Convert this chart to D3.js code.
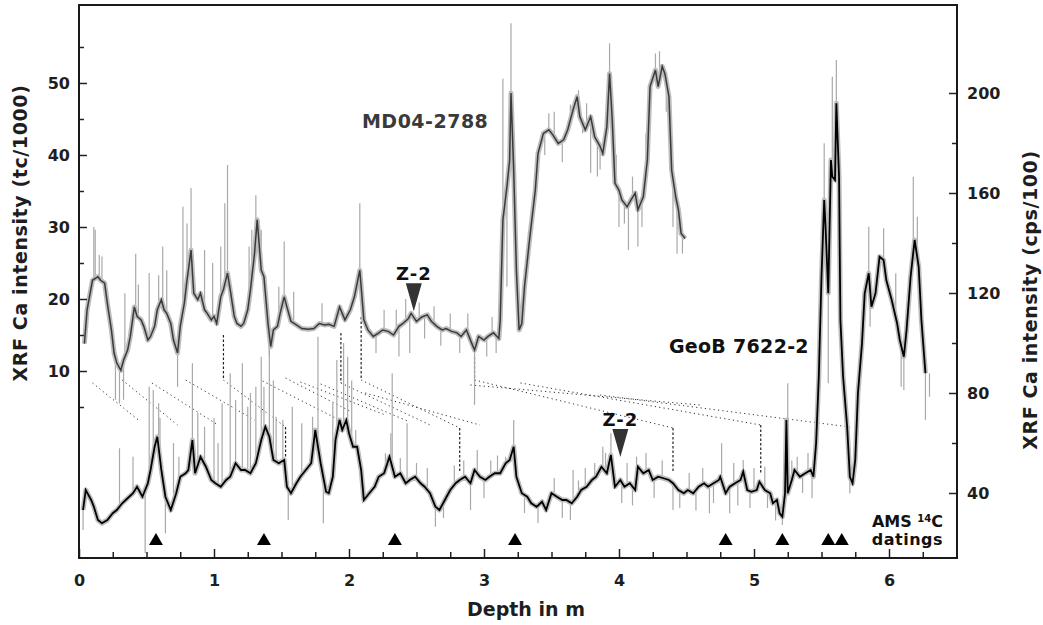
<!DOCTYPE html>
<html>
<head>
<meta charset="utf-8">
<script src="https://cdn.jsdelivr.net/npm/d3@7"></script>
<style>
  body { margin: 0; background: #fff; }
  svg text { font-family: "DejaVu Sans", Verdana, sans-serif; font-weight: bold; }
</style>
</head>
<body>
<svg id="chart" width="1043" height="625"></svg>
<script>
// MD04-2788, smoothed Ca (tc/1000) vs depth (m)
const md04 = [
  [0.04,13.8],[0.06,18.5],[0.10,22.6],[0.14,23.1],[0.16,22.6],[0.19,22.2],[0.21,19.4],[0.24,15.7],[0.26,12.5],[0.28,11.1],
  [0.31,10.1],[0.33,11.5],[0.36,12.9],[0.38,14.8],[0.41,18.9],[0.43,17.6],[0.46,17.1],[0.48,16.2],[0.51,14.3],[0.53,14.8],
  [0.56,16.2],[0.58,18.5],[0.61,19.9],[0.63,18.5],[0.65,18.0],[0.68,16.6],[0.70,14.3],[0.73,12.5],[0.75,16.2],[0.78,19.4],
  [0.80,22.6],[0.83,26.8],[0.85,20.8],[0.88,19.9],[0.90,20.8],[0.93,18.5],[0.95,18.0],[0.98,17.1],[1.00,17.6],[1.02,16.6],
  [1.05,20.3],[1.07,21.3],[1.10,23.6],[1.12,21.3],[1.15,17.6],[1.17,16.6],[1.20,16.2],[1.22,16.6],[1.25,18.5],[1.27,21.3],
  [1.30,26.3],[1.32,31.0],[1.35,24.0],[1.37,23.1],[1.40,16.6],[1.42,13.4],[1.44,15.7],[1.47,16.2],[1.49,18.0],[1.52,20.3],
  [1.54,18.9],[1.57,16.9],[1.61,16.4],[1.65,15.9],[1.70,15.8],[1.74,15.9],[1.78,16.6],[1.82,16.4],[1.85,16.5],[1.89,16.2],
  [1.93,18.9],[1.97,17.1],[2.01,18.5],[2.04,20.3],[2.08,24.0],[2.11,17.1],[2.14,15.7],[2.18,14.8],[2.22,15.3],[2.25,15.7],
  [2.29,15.5],[2.33,15.0],[2.37,16.2],[2.40,16.6],[2.44,17.3],[2.46,18.0],[2.50,16.9],[2.54,17.5],[2.58,17.8],[2.61,16.9],
  [2.65,16.2],[2.69,15.7],[2.72,15.9],[2.76,15.5],[2.80,15.3],[2.83,14.8],[2.87,15.7],[2.91,13.8],[2.93,12.9],[2.96,14.8],
  [3.00,14.3],[3.03,14.8],[3.07,15.3],[3.11,14.5],[3.12,17.1],[3.14,31.0],[3.17,35.6],[3.19,39.3],[3.20,48.6],[3.22,37.9],
  [3.24,24.0],[3.26,15.7],[3.28,16.6],[3.30,21.7],[3.34,28.7],[3.38,35.1],[3.40,40.2],[3.44,43.0],[3.48,43.5],[3.51,42.8],
  [3.55,41.6],[3.59,42.1],[3.62,43.5],[3.66,46.3],[3.69,48.1],[3.71,45.3],[3.75,43.5],[3.79,45.3],[3.82,42.5],[3.86,41.2],
  [3.88,40.2],[3.91,43.9],[3.93,51.3],[3.95,44.9],[3.97,36.1],[4.00,35.1],[4.02,33.8],[4.06,32.8],[4.09,33.8],[4.12,34.7],
  [4.14,32.4],[4.18,34.2],[4.21,39.3],[4.23,49.5],[4.27,51.8],[4.29,49.5],[4.32,52.3],[4.34,51.3],[4.37,48.1],[4.39,37.9],
  [4.42,34.2],[4.44,32.4],[4.46,29.1],[4.49,28.4]
];

// MD04-2788 raw spikes (depth, Ca)
const md04Spikes = [
  [0.11,30.0],[0.12,29.6],[0.15,26.1],[0.17,25.9],[0.27,6.0],[0.30,5.5],[0.33,6.0],[0.34,20.8],[0.42,26.3],[0.44,22.0],
  [0.52,23.6],[0.59,23.3],[0.62,27.3],[0.65,24.0],[0.73,7.8],[0.77,32.8],[0.80,30.5],[0.83,35.4],[0.93,26.8],[0.99,25.0],
  [1.05,27.3],[1.08,33.3],[1.10,38.6],[1.26,27.3],[1.28,29.6],[1.31,34.4],[1.35,29.6],[1.41,12.0],[1.48,21.7],[1.52,28.0],
  [1.59,21.0],[1.80,19.4],[1.92,18.9],[2.08,33.3],[2.20,12.5],[2.26,18.5],[2.35,18.5],[2.37,12.0],[2.42,20.0],[2.45,12.5],
  [2.52,19.5],[2.56,14.5],[2.63,19.0],[2.68,13.5],[2.75,18.0],[2.82,12.5],[2.88,18.0],[2.93,5.3],[3.02,12.0],[3.06,17.5],
  [3.09,12.5],[3.14,50.6],[3.17,21.7],[3.20,58.3],[3.45,40.0],[3.48,45.8],[3.52,46.0],[3.58,39.0],[3.64,47.0],[3.70,49.0],
  [3.73,43.0],[3.76,47.2],[3.79,37.5],[3.84,37.0],[3.86,38.0],[3.93,55.5],[3.98,40.0],[4.00,30.0],[4.04,30.5],[4.07,26.8],
  [4.10,37.0],[4.14,27.3],[4.17,30.0],[4.20,43.0],[4.27,54.1],[4.30,54.4],[4.35,46.0],[4.40,30.0],[4.43,26.3],[4.47,26.3]
];

// GeoB 7622-2, smoothed Ca (cps/100) vs depth (m)
const geob = [
  [0.03,33.2],[0.05,41.2],[0.09,37.2],[0.11,34.5],[0.14,29.2],[0.17,27.9],[0.21,29.2],[0.25,31.9],[0.28,33.2],[0.32,35.9],
  [0.36,37.9],[0.40,39.9],[0.43,42.5],[0.47,38.5],[0.51,43.9],[0.53,49.2],[0.56,58.5],[0.58,62.5],[0.61,49.2],[0.64,38.5],
  [0.68,33.2],[0.72,39.9],[0.75,46.5],[0.79,47.9],[0.81,49.2],[0.84,61.2],[0.86,47.9],[0.90,54.5],[0.94,50.5],[0.98,45.2],
  [1.01,43.9],[1.05,42.5],[1.09,45.2],[1.12,46.5],[1.16,51.9],[1.20,49.2],[1.23,49.2],[1.27,47.9],[1.31,51.9],[1.35,61.2],
  [1.38,66.5],[1.41,62.5],[1.44,53.2],[1.48,51.9],[1.52,53.2],[1.54,42.5],[1.57,39.9],[1.61,43.9],[1.64,46.5],[1.68,49.2],
  [1.72,51.9],[1.75,65.2],[1.79,51.9],[1.83,40.5],[1.85,39.9],[1.88,46.5],[1.90,61.2],[1.93,69.2],[1.95,65.2],[1.98,69.2],
  [2.00,63.9],[2.03,58.5],[2.06,58.5],[2.09,49.2],[2.11,37.2],[2.15,39.9],[2.19,42.5],[2.22,46.5],[2.26,47.9],[2.30,54.5],
  [2.34,46.5],[2.38,47.9],[2.42,43.9],[2.45,45.2],[2.49,46.5],[2.53,43.9],[2.56,42.5],[2.60,39.9],[2.64,34.5],[2.67,33.2],
  [2.71,37.2],[2.75,41.2],[2.79,43.9],[2.82,45.2],[2.86,46.5],[2.90,43.9],[2.93,49.2],[2.97,46.5],[3.01,45.2],[3.04,46.5],
  [3.08,47.9],[3.12,47.9],[3.16,51.9],[3.19,53.2],[3.22,58.5],[3.24,46.5],[3.28,39.9],[3.32,38.5],[3.35,35.9],[3.39,34.5],
  [3.43,36.5],[3.46,33.2],[3.50,39.9],[3.54,38.5],[3.58,37.2],[3.61,37.2],[3.65,35.9],[3.69,38.5],[3.72,41.2],[3.76,42.5],
  [3.80,45.2],[3.83,46.5],[3.87,50.5],[3.91,47.9],[3.94,55.2],[3.97,42.5],[4.01,45.2],[4.04,42.5],[4.08,43.9],[4.12,41.2],
  [4.14,50.5],[4.18,47.9],[4.22,49.2],[4.25,45.2],[4.29,46.5],[4.33,45.9],[4.37,45.2],[4.40,43.9],[4.44,41.2],[4.48,39.9],
  [4.51,41.2],[4.55,39.9],[4.59,42.5],[4.63,43.9],[4.66,42.5],[4.70,43.9],[4.74,45.2],[4.75,46.5],[4.79,39.9],[4.82,42.5],
  [4.86,43.9],[4.90,45.2],[4.92,48.5],[4.95,41.2],[4.98,40.5],[5.02,41.2],[5.04,44.5],[5.08,41.2],[5.12,39.9],[5.14,35.9],
  [5.17,37.2],[5.19,31.9],[5.21,30.5],[5.23,39.9],[5.24,69.2],[5.25,39.9],[5.28,45.2],[5.30,49.2],[5.34,46.5],[5.38,47.9],
  [5.42,49.2],[5.44,46.5],[5.46,59.9],[5.48,86.5],[5.50,126.5],[5.52,157.2],[5.53,146.5],[5.55,119.9],[5.57,173.2],[5.58,166.5],
  [5.60,165.2],[5.61,195.9],[5.63,166.5],[5.64,109.2],[5.66,86.5],[5.69,66.5],[5.71,46.5],[5.73,43.9],[5.75,53.2],[5.77,79.9],
  [5.80,99.9],[5.82,119.9],[5.85,127.9],[5.87,114.5],[5.90,119.9],[5.93,134.5],[5.96,133.2],[5.98,125.2],[6.02,117.2],[6.06,107.9],
  [6.08,101.2],[6.11,94.5],[6.13,105.2],[6.16,126.5],[6.19,141.2],[6.22,130.5],[6.24,109.2],[6.27,87.9]
];

// GeoB 7622-2 raw spikes (depth, Ca)
const geobSpikes = [
  [0.03,25.2],[0.30,57.9],[0.40,54.5],[0.49,15.9],[0.52,82.5],[0.55,81.2],[0.59,75.9],[0.60,70.0],[0.64,23.9],[0.70,60.0],
  [0.74,54.5],[0.84,91.9],[0.88,72.0],[0.93,66.5],[1.00,70.0],[1.03,60.0],[1.06,75.9],[1.12,87.9],[1.16,77.2],[1.21,91.9],
  [1.25,74.5],[1.27,80.0],[1.31,82.5],[1.35,94.5],[1.37,82.5],[1.41,98.5],[1.44,85.0],[1.46,70.5],[1.51,69.2],[1.55,29.2],
  [1.58,74.5],[1.65,67.9],[1.73,70.5],[1.77,102.5],[1.81,27.9],[1.88,75.9],[1.91,93.2],[1.96,100.0],[1.99,94.5],[2.02,85.0],
  [2.05,65.2],[2.10,35.9],[2.27,55.9],[2.31,63.9],[2.32,87.9],[2.38,54.0],[2.43,67.9],[2.50,52.0],[2.58,50.0],[2.64,26.5],
  [2.70,30.0],[2.78,51.0],[2.85,53.0],[2.90,33.2],[2.95,57.2],[3.00,38.0],[3.05,53.0],[3.10,55.0],[3.16,54.5],[3.22,69.2],
  [3.30,32.0],[3.40,28.0],[3.52,46.0],[3.58,30.0],[3.64,29.2],[3.66,49.2],[3.70,45.0],[3.75,50.0],[3.82,52.0],[3.88,58.5],
  [3.90,56.0],[3.94,63.9],[4.02,36.0],[4.06,52.0],[4.10,35.0],[4.13,54.5],[4.20,56.0],[4.26,38.0],[4.32,53.0],[4.40,33.2],
  [4.45,34.0],[4.52,48.0],[4.57,33.0],[4.62,50.0],[4.67,31.9],[4.70,36.0],[4.76,59.9],[4.82,31.9],[4.85,52.0],[4.88,35.0],
  [4.92,53.2],[4.97,34.0],[5.00,50.0],[5.08,50.5],[5.10,34.0],[5.16,29.0],[5.21,27.2],[5.25,83.9],[5.28,53.0],[5.32,54.5],
  [5.36,40.0],[5.40,56.0],[5.43,38.0],[5.45,55.9],[5.52,179.9],[5.55,83.9],[5.58,206.5],[5.61,213.2],[5.71,39.9],[5.85,146.5],
  [5.86,106.5],[5.96,145.9],[6.05,127.9],[6.09,82.5],[6.11,81.2],[6.18,166.5],[6.21,150.5],[6.27,69.2],[6.30,78.5]
];

// correlation tie lines: [depth1, Ca1, depth2, Ca2] on the cps/100 scale
const tieLines = [
  [0.10,84.0,0.44,69.2],[0.32,85.2,0.73,67.2],[0.54,84.0,1.03,67.2],[0.79,85.2,1.30,69.2],[1.07,85.2,1.53,66.4],
  [1.36,84.8,1.90,70.0],[1.53,86.0,2.02,72.4],[1.64,84.4,2.27,71.2],[1.79,83.6,2.45,68.4],[1.94,84.0,2.60,67.2],
  [2.09,85.2,2.82,66.0],[2.12,80.0,2.97,67.2],[2.93,85.2,4.40,66.0],[2.90,83.2,4.60,75.2],[3.27,84.0,5.05,67.2],
  [3.86,79.2,5.71,66.4]
];
// vertical connectors: [depth, Ca top, Ca bottom] on the cps/100 scale
const tieDrops = [
  [1.07,103.2,85.2],[1.94,104.0,84.0],[2.09,110.4,85.2],[2.93,94.4,85.2],
  [1.53,66.4,54.4],[2.82,66.0,48.0],[4.40,66.0,48.0],[5.05,67.2,48.0]
];

const amsDatings = [0.57, 1.37, 2.34, 3.23, 4.79, 5.21, 5.55, 5.65];
const z2Markers = [
  { depth: 2.48, value: 18.3, axis: "left" },
  { depth: 4.01, value: 54.4, axis: "right" }
];

const xTicks = [0, 1, 2, 3, 4, 5, 6];
const leftTicks = [10, 20, 30, 40, 50];
const leftMinor = [5, 15, 25, 35, 45, 55];
const rightTicks = [40, 80, 120, 160, 200];
const rightMinor = [60, 100, 140, 180];

(function drawCaCores() {
    const svg = d3.select("#chart");

    const x = d3.scaleLinear().domain([0, 6.5]).range([79, 956.5]);
    const yL = d3.scaleLinear().domain([-15.97, 60.83]).range([558, 5]);
    const yR = d3.scaleLinear().domain([14, 235.2]).range([558, 5]);

    const interp = (series, d) => {
        const i = d3.bisector(p => p[0]).left(series, d);
        if (i <= 0) return series[0][1];
        if (i >= series.length) return series[series.length - 1][1];
        const a = series[i - 1], b = series[i];
        return a[1] + (b[1] - a[1]) * (d - a[0]) / (b[0] - a[0]);
    };

    // tie lines (behind the curves)
    const ties = svg.append("g");
    ties.selectAll("line.diag")
        .data(tieLines)
        .enter().append("line")
        .attr("x1", d => x(d[0])).attr("y1", d => yR(d[1]))
        .attr("x2", d => x(d[2])).attr("y2", d => yR(d[3]))
        .attr("stroke", "#333")
        .attr("stroke-width", 1)
        .attr("stroke-dasharray", "1.2 3.2");
    ties.selectAll("line.drop")
        .data(tieDrops)
        .enter().append("line")
        .attr("x1", d => x(d[0])).attr("x2", d => x(d[0]))
        .attr("y1", d => yR(d[1])).attr("y2", d => yR(d[2]))
        .attr("stroke", "#222")
        .attr("stroke-width", 1.2)
        .attr("stroke-dasharray", "2.5 2");

    // raw spikes
    svg.append("g").selectAll("line")
        .data(md04Spikes)
        .enter().append("line")
        .attr("x1", d => x(d[0])).attr("x2", d => x(d[0]))
        .attr("y1", d => yL(interp(md04, d[0]))).attr("y2", d => yL(d[1]))
        .attr("stroke", "#a9a9a9").attr("stroke-width", 1.2);
    svg.append("g").selectAll("line")
        .data(geobSpikes)
        .enter().append("line")
        .attr("x1", d => x(d[0])).attr("x2", d => x(d[0]))
        .attr("y1", d => yR(interp(geob, d[0]))).attr("y2", d => yR(d[1]))
        .attr("stroke", "#a9a9a9").attr("stroke-width", 1.2);

    const lineL = d3.line().x(d => x(d[0])).y(d => yL(d[1]));
    const lineR = d3.line().x(d => x(d[0])).y(d => yR(d[1]));

    // noise envelope + smoothed curves
    svg.append("path").datum(md04).attr("d", lineL)
        .attr("fill", "none").attr("stroke", "#bdbdbd").attr("stroke-width", 5).attr("stroke-linejoin", "round");
    svg.append("path").datum(geob).attr("d", lineR)
        .attr("fill", "none").attr("stroke", "#bdbdbd").attr("stroke-width", 5).attr("stroke-linejoin", "round");
    svg.append("path").datum(md04).attr("d", lineL)
        .attr("fill", "none").attr("stroke", "#3a3a3a").attr("stroke-width", 1.5);
    svg.append("path").datum(geob).attr("d", lineR)
        .attr("fill", "none").attr("stroke", "#000").attr("stroke-width", 1.8);

    // axes
    svg.append("g")
        .attr("transform", "translate(0,558)")
        .call(d3.axisBottom(x).tickValues(xTicks).tickSize(-9).tickPadding(17).tickFormat(d3.format("d")));
    svg.append("g")
        .attr("transform", "translate(0,558)")
        .call(d3.axisBottom(x).tickValues(d3.range(0.25, 6.5, 0.25).filter(v => v % 1 !== 0)).tickSize(-6).tickFormat(""));
    svg.append("g")
        .attr("transform", "translate(79,0)")
        .call(d3.axisLeft(yL).tickValues(leftTicks).tickSize(-8).tickPadding(9));
    svg.append("g")
        .attr("transform", "translate(79,0)")
        .call(d3.axisLeft(yL).tickValues(leftMinor).tickSize(-5).tickFormat(""));
    svg.append("g")
        .attr("transform", "translate(957,0)")
        .call(d3.axisRight(yR).tickValues(rightTicks).tickSize(-8).tickPadding(10));
    svg.append("g")
        .attr("transform", "translate(957,0)")
        .call(d3.axisRight(yR).tickValues(rightMinor).tickSize(-5).tickFormat(""));

    svg.selectAll(".domain").remove();
    svg.selectAll(".tick line").attr("stroke", "#222").attr("stroke-width", 1.5);
    svg.selectAll(".tick text")
        .style("font-size", "16px")
        .style("font-family", "'DejaVu Sans', Verdana, sans-serif")
        .style("font-weight", "bold")
        .attr("fill", "#1e1e1e");

    // frame
    svg.append("rect")
        .attr("x", 79).attr("y", 5).attr("width", 878).attr("height", 553)
        .attr("fill", "none").attr("stroke", "#1a1a1a").attr("stroke-width", 2);

    // AMS 14C datings
    svg.append("g").selectAll("path")
        .data(amsDatings)
        .enter().append("path")
        .attr("d", d => `M${x(d) - 7},545 L${x(d) + 7},545 L${x(d)},533 Z`)
        .attr("fill", "#000");

    // Z-2 markers
    z2Markers.forEach(m => {
        const cx = x(m.depth);
        const tip = m.axis === "left" ? yL(m.value) : yR(m.value);
        svg.append("path")
            .attr("d", `M${cx - 8},${tip - 28} L${cx + 8},${tip - 28} L${cx},${tip} Z`)
            .attr("fill", "#333");
        svg.append("text")
            .attr("x", cx).attr("y", tip - 31)
            .attr("text-anchor", "middle")
            .style("font-size", "18px")
            .style("letter-spacing", "1px")
            .attr("fill", "#111")
            .text("Z-2");
    });

    // series labels
    svg.append("text")
        .attr("x", x(2.096)).attr("y", yL(43.75))
        .style("font-size", "19px").style("letter-spacing", "0.5px")
        .attr("fill", "#3a3a3a")
        .text("MD04-2788");
    svg.append("text")
        .attr("x", x(4.37)).attr("y", yR(96))
        .style("font-size", "19px").style("letter-spacing", "0.3px")
        .attr("fill", "#111")
        .text("GeoB 7622-2");

    const ams = svg.append("text")
        .attr("x", 943).attr("y", 527)
        .attr("text-anchor", "end")
        .style("font-size", "16px")
        .attr("fill", "#111");
    ams.append("tspan").text("AMS ");
    ams.append("tspan").attr("dy", -5).style("font-size", "10px").text("14");
    ams.append("tspan").attr("dy", 5).text("C");
    svg.append("text")
        .attr("x", 943).attr("y", 545)
        .attr("text-anchor", "end")
        .style("font-size", "16px").style("letter-spacing", "0.5px")
        .attr("fill", "#111")
        .text("datings");

    // axis titles
    svg.append("text")
        .attr("transform", "translate(27,233) rotate(-90)")
        .attr("text-anchor", "middle")
        .style("font-size", "19px").style("letter-spacing", "0.6px")
        .attr("fill", "#1e1e1e")
        .text("XRF Ca intensity (tc/1000)");
    svg.append("text")
        .attr("transform", "translate(1037,300) rotate(-90)")
        .attr("text-anchor", "middle")
        .style("font-size", "19px").style("letter-spacing", "0.6px")
        .attr("fill", "#1e1e1e")
        .text("XRF Ca intensity (cps/100)");
    svg.append("text")
        .attr("x", 526).attr("y", 616)
        .attr("text-anchor", "middle")
        .style("font-size", "19px")
        .attr("fill", "#1e1e1e")
        .text("Depth in m");
})();
</script>
</body>
</html>
